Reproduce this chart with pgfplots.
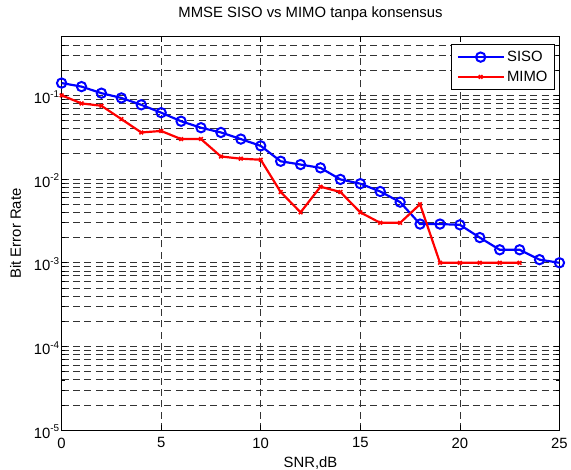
\documentclass[border=0pt]{standalone}
\usepackage{fontspec}
\setmainfont{Liberation Sans}
\usepackage{pgfplots}
\pgfplotsset{compat=1.18}
\newcommand{\ee}[1]{10\raisebox{0.42em}{\fontsize{10}{10}\selectfont #1}}
\begin{document}
\begin{tikzpicture}
\begin{axis}[
  scale only axis,
  width=501bp, height=396bp,
  ymode=log,
  xmin=0, xmax=25, ymin=1e-5, ymax=0.5,
  clip=false,
  font=\fontsize{15}{18}\selectfont,
  /pgf/number format/assume math mode=true,
  xtick={0,5,10,15,20,25},
  ytick={1e-5,1e-4,1e-3,1e-2,1e-1},
  yticklabels={\ee{-5},\ee{-4},\ee{-3},\ee{-2},\ee{-1}},
  minor ytick={2e-5,3e-5,4e-5,5e-5,6e-5,7e-5,8e-5,9e-5,
               2e-4,3e-4,4e-4,5e-4,6e-4,7e-4,8e-4,9e-4,
               2e-3,3e-3,4e-3,5e-3,6e-3,7e-3,8e-3,9e-3,
               2e-2,3e-2,4e-2,5e-2,6e-2,7e-2,8e-2,9e-2,
               0.2,0.3,0.4},
  tick align=inside,
  major tick length=5bp, minor tick length=3bp,
  every tick/.style={black, line width=0.7bp},
  axis line style={black, line width=1bp},
  grid=both,
  major grid style={black!80, line width=0.75bp, dash pattern=on 7bp off 4.5bp},
  minor grid style={black!80, line width=0.75bp, dash pattern=on 7bp off 4.5bp},
  xticklabel style={yshift=-4bp},
  yticklabel style={xshift=1bp, yshift=-1.5bp},
  title={MMSE SISO vs MIMO tanpa konsensus},
  title style={at={(axis description cs:0.5,1.0328)}, anchor=base, inner sep=0pt},
  xlabel={SNR,dB},
  xlabel style={at={(axis description cs:0.5,-0.0947)}, anchor=base, inner sep=0pt},
  ylabel={Bit Error Rate},
  ylabel style={at={(axis description cs:-0.0818,0.5)}, anchor=base, inner sep=0pt},
  legend style={at={(axis description cs:0.9920,0.9823)}, anchor=north east,
    draw=black, line width=1bp, fill=white, inner xsep=5bp, inner ysep=4.5bp,
    row sep=3bp, font=\fontsize{15}{18}\selectfont,
    nodes={inner sep=2.5bp}},
  legend cell align=left,
  legend image code/.code={%
    \draw[mark repeat=2,mark phase=2] plot coordinates {(0bp,0bp) (23bp,0bp) (46bp,0bp)};},
]
\addplot[color=blue, line width=2.2bp, mark=o, mark size=4.7bp, mark options={line width=2bp, solid}] coordinates {
(0,0.140) (1,0.127) (2,0.106) (3,0.093) (4,0.077) (5,0.062) (6,0.049) (7,0.041)
(8,0.036) (9,0.030) (10,0.0249) (11,0.0163) (12,0.0149) (13,0.0136) (14,0.0099)
(15,0.0088) (16,0.0071) (17,0.0053) (18,0.0029) (19,0.0029) (20,0.00284)
(21,0.0020) (22,0.00143) (23,0.00143) (24,0.00109) (25,0.00100)};
\addlegendentry{SISO}
\addplot[color=red, line width=2.2bp, mark=x, mark size=2.6bp, mark options={line width=1.6bp, solid}] coordinates {
(0,0.100) (1,0.080) (2,0.075) (3,0.052) (4,0.036) (5,0.0375) (6,0.030) (7,0.030)
(8,0.0186) (9,0.0175) (10,0.0170) (11,0.0070) (12,0.0040) (13,0.0081) (14,0.0070)
(15,0.0040) (16,0.0030) (17,0.0030) (18,0.0050) (19,0.0010) (20,0.0010)
(21,0.0010) (22,0.0010) (23,0.0010)};
\addlegendentry{MIMO}
\end{axis}
\path ([xshift=-62bp,yshift=-39bp]current axis.south west) rectangle ([xshift=8bp,yshift=37bp]current axis.north east);
\end{tikzpicture}
\end{document}
